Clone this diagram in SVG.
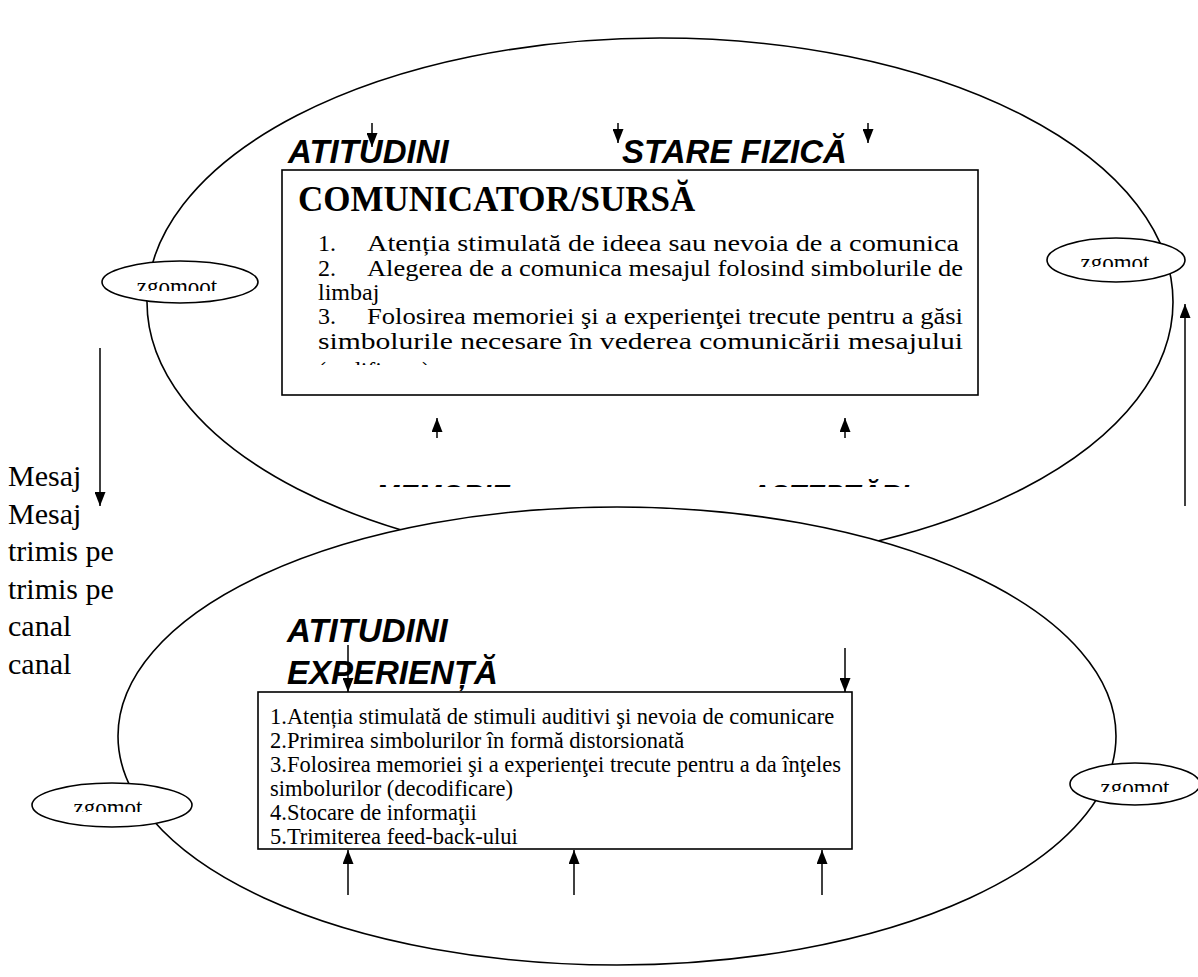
<svg xmlns="http://www.w3.org/2000/svg" width="1198" height="977" viewBox="0 0 1198 977">
<style>
.el{fill:#fff;stroke:#000;stroke-width:1.6}
.box{fill:#fff;stroke:#000;stroke-width:1.6}
.ar{stroke:#000;stroke-width:1.5;fill:none;marker-end:url(#ah)}
.hd{font-family:"Liberation Sans",Arial,sans-serif;font-weight:bold;font-style:italic;font-size:33px;fill:#000}
.tt{font-family:"Liberation Serif","Times New Roman",serif;font-weight:bold;font-size:35px;fill:#000}
.it{font-family:"Liberation Serif","Times New Roman",serif;font-size:24px;fill:#000}
.ib{font-family:"Liberation Serif","Times New Roman",serif;font-size:22.5px;fill:#000}
.ms{font-family:"Liberation Serif","Times New Roman",serif;font-size:30px;fill:#000}
.zg{font-family:"Liberation Serif","Times New Roman",serif;font-size:23px;fill:#000;text-anchor:middle}
</style>
<defs>
<marker id="ah" viewBox="0 0 14 11" refX="14" refY="5.5" markerWidth="14" markerHeight="11" markerUnits="userSpaceOnUse" orient="auto"><path d="M0,0 L14,5.5 L0,11 z" fill="#000"/></marker>
<clipPath id="cTop"><rect x="282" y="170" width="696" height="195"/></clipPath>
<clipPath id="cMem"><rect x="300" y="470" width="700" height="17"/></clipPath>
<clipPath id="cZ1"><rect x="100" y="262" width="160" height="29"/></clipPath>
<clipPath id="cZ2"><rect x="1046" y="238" width="140" height="29"/></clipPath>
<clipPath id="cZ3"><rect x="32" y="783" width="162" height="29"/></clipPath>
<clipPath id="cZ4"><rect x="1070" y="763" width="128" height="29"/></clipPath>
</defs>
<rect width="1198" height="977" fill="#fff"/>

<g id="ellipse-sender"><ellipse class="el" cx="660" cy="302" rx="513" ry="264"/></g>
<g id="ellipse-receiver"><ellipse class="el" cx="617" cy="736" rx="499" ry="229"/></g>

<g id="noise-1"><ellipse class="el" cx="180" cy="282" rx="78" ry="21"/><text class="zg" x="177" y="294" clip-path="url(#cZ1)">zgomoot</text></g>
<g id="noise-2"><ellipse class="el" cx="1116" cy="260" rx="69" ry="22"/><text class="zg" x="1115" y="270" clip-path="url(#cZ2)">zgomot</text></g>
<g id="noise-3"><ellipse class="el" cx="112" cy="805" rx="80" ry="22"/><text class="zg" x="108" y="815" clip-path="url(#cZ3)">zgomot</text></g>
<g id="noise-4"><ellipse class="el" cx="1135" cy="784" rx="65" ry="21"/><text class="zg" x="1135" y="795" clip-path="url(#cZ4)">zgomot</text></g>

<g id="sender-labels">
<text class="hd" x="288" y="163">ATITUDINI</text>
<text class="hd" x="622" y="163">STARE FIZICĂ</text>
</g>

<g id="sender-box">
<rect class="box" x="282" y="170" width="696" height="225"/>
<text class="tt" x="298" y="211">COMUNICATOR/SURSĂ</text>
<g clip-path="url(#cTop)">
<text class="it" x="318" y="251">1.</text><text class="it" x="367" y="251" textLength="592" lengthAdjust="spacingAndGlyphs">Atenția stimulată de ideea sau nevoia de a comunica</text>
<text class="it" x="318" y="276">2.</text><text class="it" x="367" y="276" textLength="596" lengthAdjust="spacingAndGlyphs">Alegerea de a comunica mesajul folosind simbolurile de</text>
<text class="it" x="318" y="300">limbaj</text>
<text class="it" x="318" y="324">3.</text><text class="it" x="367" y="324" textLength="596" lengthAdjust="spacingAndGlyphs">Folosirea memoriei şi a experienţei trecute pentru a găsi</text>
<text class="it" x="318" y="349" textLength="645" lengthAdjust="spacingAndGlyphs">simbolurile necesare în vederea comunicării mesajului</text>
<text class="it" x="318" y="378">(codificare)</text>
</g>
</g>

<g id="sender-hidden-labels" clip-path="url(#cMem)">
<text class="hd" style="font-size:28px" x="376" y="504">MEMORIE</text>
<text class="hd" style="font-size:28px" x="750" y="504">AŞTEPTĂRI</text>
</g>

<g id="message-label">
<text class="ms" x="8" y="486">Mesaj</text>
<text class="ms" x="8" y="524">Mesaj</text>
<text class="ms" x="8" y="561">trimis pe</text>
<text class="ms" x="8" y="599">trimis pe</text>
<text class="ms" x="8" y="636">canal</text>
<text class="ms" x="8" y="674">canal</text>
</g>

<g id="receiver-labels">
<text class="hd" x="287" y="642">ATITUDINI</text>
<text class="hd" x="287" y="684">EXPERIENȚĂ</text>
</g>

<g id="receiver-box">
<rect class="box" x="258" y="692" width="594" height="157"/>
<text class="ib" x="270" y="724">1.Atenția stimulată de stimuli auditivi şi nevoia de comunicare</text>
<text class="ib" x="270" y="748">2.Primirea simbolurilor în formă distorsionată</text>
<text class="ib" x="270" y="772">3.Folosirea memoriei şi a experienţei trecute pentru a da înţeles</text>
<text class="ib" x="270" y="796">simbolurilor (decodificare)</text>
<text class="ib" x="270" y="820">4.Stocare de informaţii</text>
<text class="ib" x="270" y="844">5.Trimiterea feed-back-ului</text>
</g>

<g id="connectors">
<line class="ar" x1="372" y1="123" x2="372" y2="147"/>
<line class="ar" x1="618" y1="123" x2="618" y2="143"/>
<line class="ar" x1="868" y1="123" x2="868" y2="143"/>
<line class="ar" x1="437" y1="438" x2="437" y2="418"/>
<line class="ar" x1="845" y1="438" x2="845" y2="418"/>
<line class="ar" x1="100" y1="348" x2="100" y2="506"/>
<line class="ar" x1="1185" y1="506" x2="1185" y2="304"/>
<line class="ar" x1="348" y1="645" x2="348" y2="692"/>
<line class="ar" x1="845" y1="648" x2="845" y2="692"/>
<line class="ar" x1="348" y1="895" x2="348" y2="850"/>
<line class="ar" x1="574" y1="895" x2="574" y2="850"/>
<line class="ar" x1="822" y1="895" x2="822" y2="850"/>
</g>
</svg>
